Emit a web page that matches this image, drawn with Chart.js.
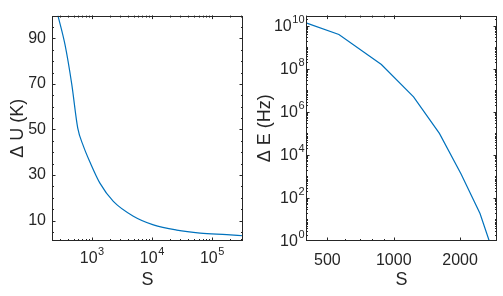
<!DOCTYPE html>
<html>
<head>
<meta charset="utf-8">
<script src="https://cdn.jsdelivr.net/npm/chart.js@4.4.1/dist/chart.umd.min.js"></script>
<style>
  body { margin: 0; background: #fff; }
  canvas { position: absolute; top: 0; }
</style>
</head>
<body>
<canvas id="graficoU" width="250" height="296" style="left:0"></canvas>
<canvas id="graficoE" width="253" height="296" style="left:250px"></canvas>
<script>
// datos
var sU = [274, 359, 464, 585, 724, 937, 1376, 2290, 4930, 10630, 26000, 63800, 177000, 330000];
var deltaU = [100, 87.2, 70, 50.6, 42.8, 35.6, 26.3, 18.4, 11.9, 8.1, 5.8, 4.5, 3.8, 3.3];
var uXTicks = [1e3, 1e4, 1e5];
var uXExp = ['3', '4', '5'];          // etiquetas 10^3, 10^4, 10^5
var uYTicks = [10, 30, 50, 70, 90];

var sE = [403, 564, 879, 1230, 1611, 2020, 2462, 2712];
var deltaE = [1.35e10, 4e9, 1.6e8, 5e6, 1.0e5, 1.3e3, 19, 1];
var eXTicks = [500, 1000, 2000];
var eYTicks = [1, 1e2, 1e4, 1e6, 1e8, 1e10];
var eYExp = ['0', '2', '4', '6', '8', '10'];   // etiquetas 10^0 ... 10^10

var azul = '#0072BD';
var gris = '#262626';
var fuente = 'Liberation Sans, Arial, Helvetica, sans-serif';

function minoresLog(min, max) {
  var out = [];
  for (var d = Math.floor(Math.log10(min)); d <= Math.ceil(Math.log10(max)); d++) {
    for (var k = 1; k <= 9; k++) {
      var v = k * Math.pow(10, d);
      if (v >= min && v <= max) out.push(v);
    }
  }
  return out;
}

// "10" con exponente elevado, como en matlab
function potencia(ctx, exp, x, y, align) {
  ctx.font = '16px ' + fuente;
  var wb = ctx.measureText('10').width;
  ctx.font = '11px ' + fuente;
  var we = ctx.measureText(exp).width;
  var x0 = align === 'center' ? x - (wb + we) / 2 : x - (wb + we);
  ctx.textAlign = 'left';
  ctx.textBaseline = 'middle';
  ctx.fillStyle = gris;
  ctx.font = '16px ' + fuente;
  ctx.fillText('10', x0, y);
  ctx.font = '11px ' + fuente;
  ctx.fillText(exp, x0 + wb + 0.5, y - 7);
}

// marcas hacia adentro en los cuatro lados y etiquetas con exponente
var marcasDentro = {
  id: 'marcasDentro',
  afterDatasetsDraw: function(chart, args, opts) {
    var ctx = chart.ctx, a = chart.chartArea;
    var sx = chart.scales.x, sy = chart.scales.y;
    ctx.save();
    ctx.strokeStyle = gris;
    ctx.lineWidth = 1;
    ctx.strokeRect(Math.round(a.left) + 0.5, Math.round(a.top) + 0.5,
                   Math.round(a.right - a.left) - 1, Math.round(a.bottom - a.top) - 1);
    ctx.beginPath();
    function marcaX(v, len) {
      var px = Math.round(sx.getPixelForValue(v)) + 0.5;
      if (px < a.left || px > a.right) return;
      ctx.moveTo(px, a.bottom); ctx.lineTo(px, a.bottom - len);
      ctx.moveTo(px, a.top); ctx.lineTo(px, a.top + len);
    }
    function marcaY(v, len) {
      var py = Math.round(sy.getPixelForValue(v)) + 0.5;
      if (py < a.top || py > a.bottom) return;
      ctx.moveTo(a.left, py); ctx.lineTo(a.left + len, py);
      ctx.moveTo(a.right, py); ctx.lineTo(a.right - len, py);
    }
    opts.xMinor.forEach(function(v) { marcaX(v, 2); });
    opts.xMajor.forEach(function(v) { marcaX(v, 3.5); });
    opts.yMinor.forEach(function(v) { marcaY(v, 2); });
    opts.yMajor.forEach(function(v) { marcaY(v, 3.5); });
    ctx.stroke();

    if (opts.xExp) {
      opts.xMajor.forEach(function(v, i) {
        potencia(ctx, opts.xExp[i], sx.getPixelForValue(v), a.bottom + 18, 'center');
      });
    }
    if (opts.yExp) {
      opts.yMajor.forEach(function(v, i) {
        potencia(ctx, opts.yExp[i], a.left - 2, sy.getPixelForValue(v) + 1, 'right');
      });
    }
    ctx.restore();
  }
};

function ejes(cfg) {
  return {
    x: {
      type: 'logarithmic',
      min: cfg.xMin, max: cfg.xMax,
      grid: { display: false, drawTicks: false },
      border: { display: false },
      afterBuildTicks: function(s) { s.ticks = cfg.xTicks.map(function(v) { return { value: v }; }); },
      afterFit: function(s) { s.height = 55; },
      ticks: {
        color: gris, padding: 10, maxRotation: 0, autoSkip: false,
        font: { family: fuente, size: 16 },
        callback: function(v, i) { return cfg.xLabels ? cfg.xLabels[i] : ''; }
      },
      title: { display: true, text: 'S', color: gris, padding: { bottom: 5 }, font: { family: fuente, size: 18 } }
    },
    y: {
      type: cfg.yType,
      min: cfg.yMin, max: cfg.yMax,
      grid: { display: false, drawTicks: false },
      border: { display: false },
      afterBuildTicks: function(s) { s.ticks = cfg.yTicks.map(function(v) { return { value: v }; }); },
      afterFit: function(s) { s.width = cfg.yWidth; },
      ticks: {
        color: gris, padding: 6, autoSkip: false,
        font: { family: fuente, size: 16 },
        callback: function(v, i) { return cfg.yLabels ? cfg.yLabels[i] : ''; }
      },
      title: { display: true, text: cfg.yTitle, color: gris, padding: { top: cfg.yTitlePad }, font: { family: fuente, size: 18 } }
    }
  };
}

function puntos(xs, ys) {
  return xs.map(function(x, i) { return { x: x, y: ys[i] }; });
}

new Chart(document.getElementById('graficoU'), {
  type: 'line',
  data: {
    datasets: [{
      data: puntos(sU, deltaU),
      borderColor: azul, borderWidth: 1.2, pointRadius: 0,
      cubicInterpolationMode: 'monotone'
    }]
  },
  options: {
    responsive: false, animation: false,
    layout: { padding: { top: 11, right: 7, left: 0, bottom: 0 } },
    plugins: {
      legend: { display: false }, tooltip: { enabled: false },
      marcasDentro: {
        xMajor: uXTicks, xMinor: minoresLog(200, 4e5), xExp: uXExp,
        yMajor: uYTicks, yMinor: [5, 15, 20, 25, 35, 40, 45, 55, 60, 65, 75, 80, 85, 95]
      }
    },
    scales: ejes({
      xMin: 218, xMax: 330000, xTicks: uXTicks, xLabels: null,
      yType: 'linear', yMin: 1, yMax: 100, yTicks: uYTicks,
      yLabels: uYTicks.map(String), yWidth: 52,
      yTitle: 'Δ U (K)', yTitlePad: 7
    })
  },
  plugins: [marcasDentro]
});

new Chart(document.getElementById('graficoE'), {
  type: 'line',
  data: {
    datasets: [{
      data: puntos(sE, deltaE),
      borderColor: azul, borderWidth: 1.2, pointRadius: 0
    }]
  },
  options: {
    responsive: false, animation: false,
    layout: { padding: { top: 12, right: 6, left: 0, bottom: 0 } },
    plugins: {
      legend: { display: false }, tooltip: { enabled: false },
      marcasDentro: {
        xMajor: eXTicks, xMinor: minoresLog(400, 2940),
        yMajor: eYTicks, yMinor: minoresLog(1, 3e10), yExp: eYExp
      }
    },
    scales: ejes({
      xMin: 400, xMax: 2940, xTicks: eXTicks, xLabels: eXTicks.map(String),
      yType: 'logarithmic', yMin: 1, yMax: 3e10, yTicks: eYTicks,
      yLabels: null, yWidth: 56,
      yTitle: 'Δ E (Hz)', yTitlePad: 4
    })
  },
  plugins: [marcasDentro]
});
</script>
</body>
</html>
